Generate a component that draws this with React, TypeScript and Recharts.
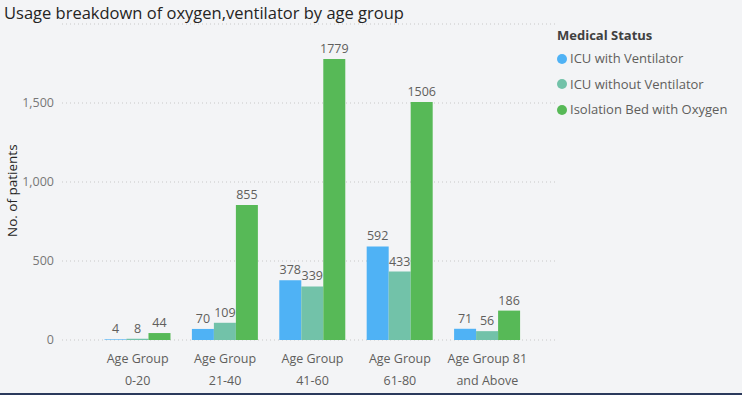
import { BarChart, Bar, XAxis, YAxis, CartesianGrid, LabelList } from "recharts";

const categories = ["Age Group\n0-20", "Age Group\n21-40", "Age Group\n41-60", "Age Group\n61-80", "Age Group 81\nand Above"];
const icuVent = [4, 70, 378, 592, 71];
const icuNoVent = [8, 109, 339, 433, 56];
const isolationO2 = [44, 855, 1779, 1506, 186];
const yTicks = [0, 500, 1000, 1500];

const series = [
  { key: "icuVent", name: "ICU with Ventilator", color: "#4FB2F5" },
  { key: "icuNoVent", name: "ICU without Ventilator", color: "#72C2A9" },
  { key: "isolationO2", name: "Isolation Bed with Oxygen", color: "#57B957" },
];

const data = categories.map((c, i) => ({
  name: c,
  icuVent: icuVent[i],
  icuNoVent: icuNoVent[i],
  isolationO2: isolationO2[i],
}));

const font = "'Segoe UI', 'Open Sans', 'Noto Sans', sans-serif";

function CategoryTick({ x, y, payload }: any) {
  const lines = String(payload.value).split("\n");
  return (
    <text x={x} y={y} textAnchor="middle" fill="#605E5C" fontSize={12.5} fontFamily={font}>
      {lines.map((l, i) => (
        <tspan key={i} x={x} dy={i === 0 ? 15 : 22}>{l}</tspan>
      ))}
    </text>
  );
}

function LegendBox() {
  return (
    <div style={{ position: "absolute", left: 557, top: 24, fontFamily: font, fontSize: 13, color: "#605E5C", lineHeight: "25.5px" }}>
      <div style={{ fontWeight: 700, color: "#404040", lineHeight: "22px" }}>Medical Status</div>
      {series.map((s) => (
        <div key={s.key} style={{ display: "flex", alignItems: "center" }}>
          <span style={{ width: 10, height: 10, borderRadius: 5, background: s.color, marginRight: 3, display: "inline-block" }} />
          {s.name}
        </div>
      ))}
    </div>
  );
}

export default function App() {
  return (
    <div style={{ position: "fixed", left: 0, top: 0, width: 742, height: 395, background: "#F3F4F6", overflow: "hidden" }}>
      <div style={{ position: "absolute", left: 4, top: 1, fontFamily: font, fontSize: 16.5, color: "#252423" }}>
        Usage breakdown of oxygen,ventilator by age group
      </div>
      <div style={{ position: "absolute", left: 0, bottom: 0, width: 742, height: 2, background: "#2B3A5C" }} />
      <LegendBox />
      <div style={{ position: "absolute", left: 0, top: 0 }}>
        <BarChart
          width={742}
          height={395}
          data={data}
          margin={{ top: 24, right: 187, bottom: 25, left: 0 }}
          barGap={0}
          barCategoryGap="12%"
        >
          <CartesianGrid vertical={false} stroke="#C8C8C8" strokeDasharray="1 3" />
          <XAxis
            dataKey="name"
            height={30}
            axisLine={false}
            tickLine={false}
            interval={0}
            padding={{ left: 32, right: 24 }}
            tick={<CategoryTick />}
          />
          <YAxis
            width={62}
            domain={[0, 2000]}
            ticks={yTicks}
            axisLine={false}
            tickLine={false}
            tick={{ fill: "#777", fontSize: 12.5, fontFamily: font }}
            tickFormatter={(v) => v.toLocaleString("en-US")}
            label={{ value: "No. of patients", angle: -90, position: "insideLeft", dx: 7, dy: 55, fill: "#252423", fontSize: 13.5, fontFamily: font }}
          />
          {series.map((s) => (
            <Bar key={s.key} dataKey={s.key} name={s.name} fill={s.color} isAnimationActive={false}>
              <LabelList dataKey={s.key} position="top" offset={6} fill="#605E5C" fontSize={12.5} fontFamily={font} />
            </Bar>
          ))}
        </BarChart>
      </div>
    </div>
  );
}
